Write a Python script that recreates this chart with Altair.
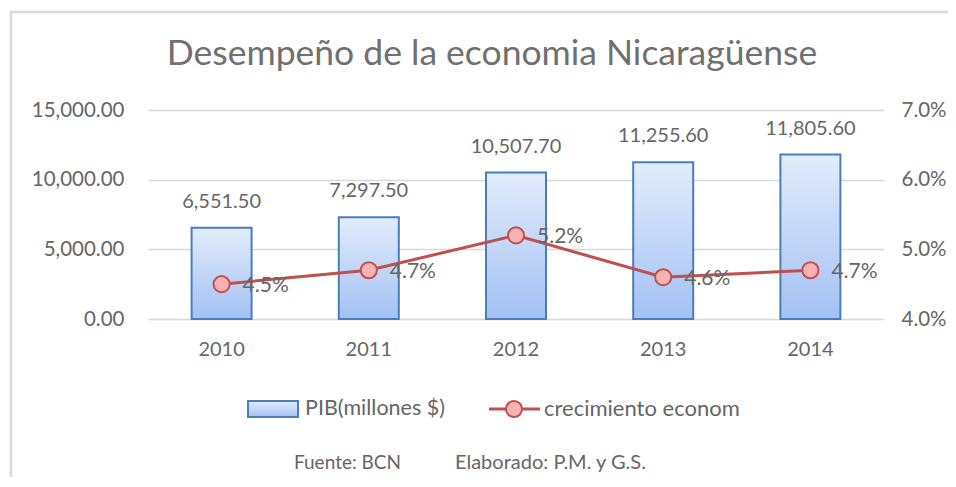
import altair as alt
import pandas as pd

years = ["2010", "2011", "2012", "2013", "2014"]
pib = [6551.50, 7297.50, 10507.70, 11255.60, 11805.60]
crec = [4.5, 4.7, 5.2, 4.6, 4.7]

title_text = "Desempeño de la economia Nicaragüense"
legend_labels = ["PIB(millones $)", "crecimiento econom"]
footer_texts = ["Fuente: BCN", "Elaborado: P.M. y G.S."]

df = pd.DataFrame({"year": years, "pib": pib, "crec": crec})
df["pib_label"] = [f"{v:,.2f}" for v in pib]
df["crec_label"] = [f"{v:.1f}%" for v in crec]

W, H = 736, 209
FONT = "Lato"
GRAY = "#666666"
RED = "#c0504d"

x = alt.X("year:N", title=None,
          scale=alt.Scale(paddingInner=0.0, paddingOuter=0.0),
          axis=alt.Axis(labelAngle=0, labelFontSize=20, labelColor=GRAY, labelFont=FONT,
                        ticks=False, domain=False, labelPadding=20))

y_left = alt.Y("pib:Q", title=None,
               scale=alt.Scale(domain=[0, 15000], nice=False),
               axis=alt.Axis(values=[0, 5000, 10000, 15000], format=",.2f",
                             labelFontSize=20.5, labelColor=GRAY, labelFont=FONT,
                             ticks=False, domain=False, grid=True, gridColor="#d9d9d9",
                             gridWidth=1.5, labelPadding=24))

y_right = alt.Y("crec:Q", title=None,
                scale=alt.Scale(domain=[4, 7], nice=False),
                axis=alt.Axis(orient="right", values=[4, 5, 6, 7],
                              labelExpr="format(datum.value, '.1f') + '%'",
                              labelFontSize=20.5, labelColor=GRAY, labelFont=FONT,
                              ticks=False, domain=False, grid=False, labelPadding=17))

grad = alt.Gradient(gradient="linear",
                    stops=[alt.GradientStop(color="#e2ecfc", offset=0),
                           alt.GradientStop(color="#a3c1f3", offset=1)],
                    x1=0, x2=0, y1=0, y2=1)

bars = alt.Chart(df).mark_bar(size=60, fill=grad, stroke="#4a7ebb", strokeWidth=2).encode(
    x=x, y=y_left)
bar_text = alt.Chart(df).mark_text(dy=-26, fontSize=20, color=GRAY, font=FONT).encode(
    x=x, y=y_left, text="pib_label:N")

line = alt.Chart(df).mark_line(color=RED, strokeWidth=3).encode(x=x, y=y_right)
pts = alt.Chart(df).mark_point(filled=True, shape="circle", size=260, fill="#f7b3b3",
                               stroke=RED, strokeWidth=2, opacity=1).encode(x=x, y=y_right)
line_text = alt.Chart(df).mark_text(align="left", dx=21, dy=2, fontSize=21, color=GRAY,
                                    font=FONT).encode(x=x, y=y_right, text="crec_label:N")

# chart-area border (left and top edges; the rest lies outside the picture)
bdf = pd.DataFrame({"k": [0]})
border_top = alt.Chart(bdf).mark_rule(stroke="#d9d9d9", strokeWidth=2.5).encode(
    x=alt.value(-138), x2=alt.value(W + 80), y=alt.value(-98))
border_left = alt.Chart(bdf).mark_rule(stroke="#d9d9d9", strokeWidth=2.5).encode(
    x=alt.value(-137), y=alt.value(-99), y2=alt.value(H + 200))

# title
tdf = pd.DataFrame({"t": [title_text]})
title = alt.Chart(tdf).mark_text(align="center", baseline="middle", fontSize=35.5,
                                 color="#707070", font=FONT).encode(
    x=alt.value(344), y=alt.value(-56), text="t:N")

# legend (manual)
l1 = pd.DataFrame({"lbl": [legend_labels[0]]})
leg_bar = alt.Chart(l1).mark_rect(fill=grad, stroke="#4a7ebb", strokeWidth=2).encode(
    x=alt.value(100), x2=alt.value(150), y=alt.value(291), y2=alt.value(307))
leg_bar_txt = alt.Chart(l1).mark_text(align="left", baseline="middle", fontSize=21.5,
                                      color=GRAY, font=FONT).encode(
    x=alt.value(157), y=alt.value(299), text="lbl:N")
l2 = pd.DataFrame({"lbl": [legend_labels[1]]})
leg_line = alt.Chart(l2).mark_rule(color=RED, strokeWidth=3).encode(
    x=alt.value(341), x2=alt.value(392), y=alt.value(299))
leg_pt = alt.Chart(l2).mark_point(filled=True, shape="circle", size=260,
                                  fill="#f7b3b3", stroke=RED, strokeWidth=2,
                                  opacity=1).encode(x=alt.value(366), y=alt.value(299))
leg_line_txt = alt.Chart(l2).mark_text(align="left", baseline="middle", fontSize=22,
                                       color=GRAY, font=FONT).encode(
    x=alt.value(396), y=alt.value(299), text="lbl:N")

f1 = pd.DataFrame({"t": [footer_texts[0]]})
f2 = pd.DataFrame({"t": [footer_texts[1]]})
foot1 = alt.Chart(f1).mark_text(align="left", baseline="middle", fontSize=19,
                                color=GRAY, font=FONT).encode(
    x=alt.value(146), y=alt.value(353), text="t:N")
foot2 = alt.Chart(f2).mark_text(align="left", baseline="middle", fontSize=20,
                                color=GRAY, font=FONT).encode(
    x=alt.value(307), y=alt.value(353), text="t:N")

left = alt.layer(bars, bar_text)
right = alt.layer(line, pts, line_text)

chart = alt.layer(border_top, border_left, title, left, right, leg_bar, leg_bar_txt,
                  leg_line, leg_pt, leg_line_txt, foot1, foot2).resolve_scale(
    y="independent").properties(
    width=W, height=H,
    autosize=alt.AutoSizeParams(type="none"),
    padding={"left": 140, "top": 102, "right": 64, "bottom": 158},
    background="white",
).configure_view(stroke=None)

chart.save("out.html", embed_options={"renderer": "svg", "actions": False})
